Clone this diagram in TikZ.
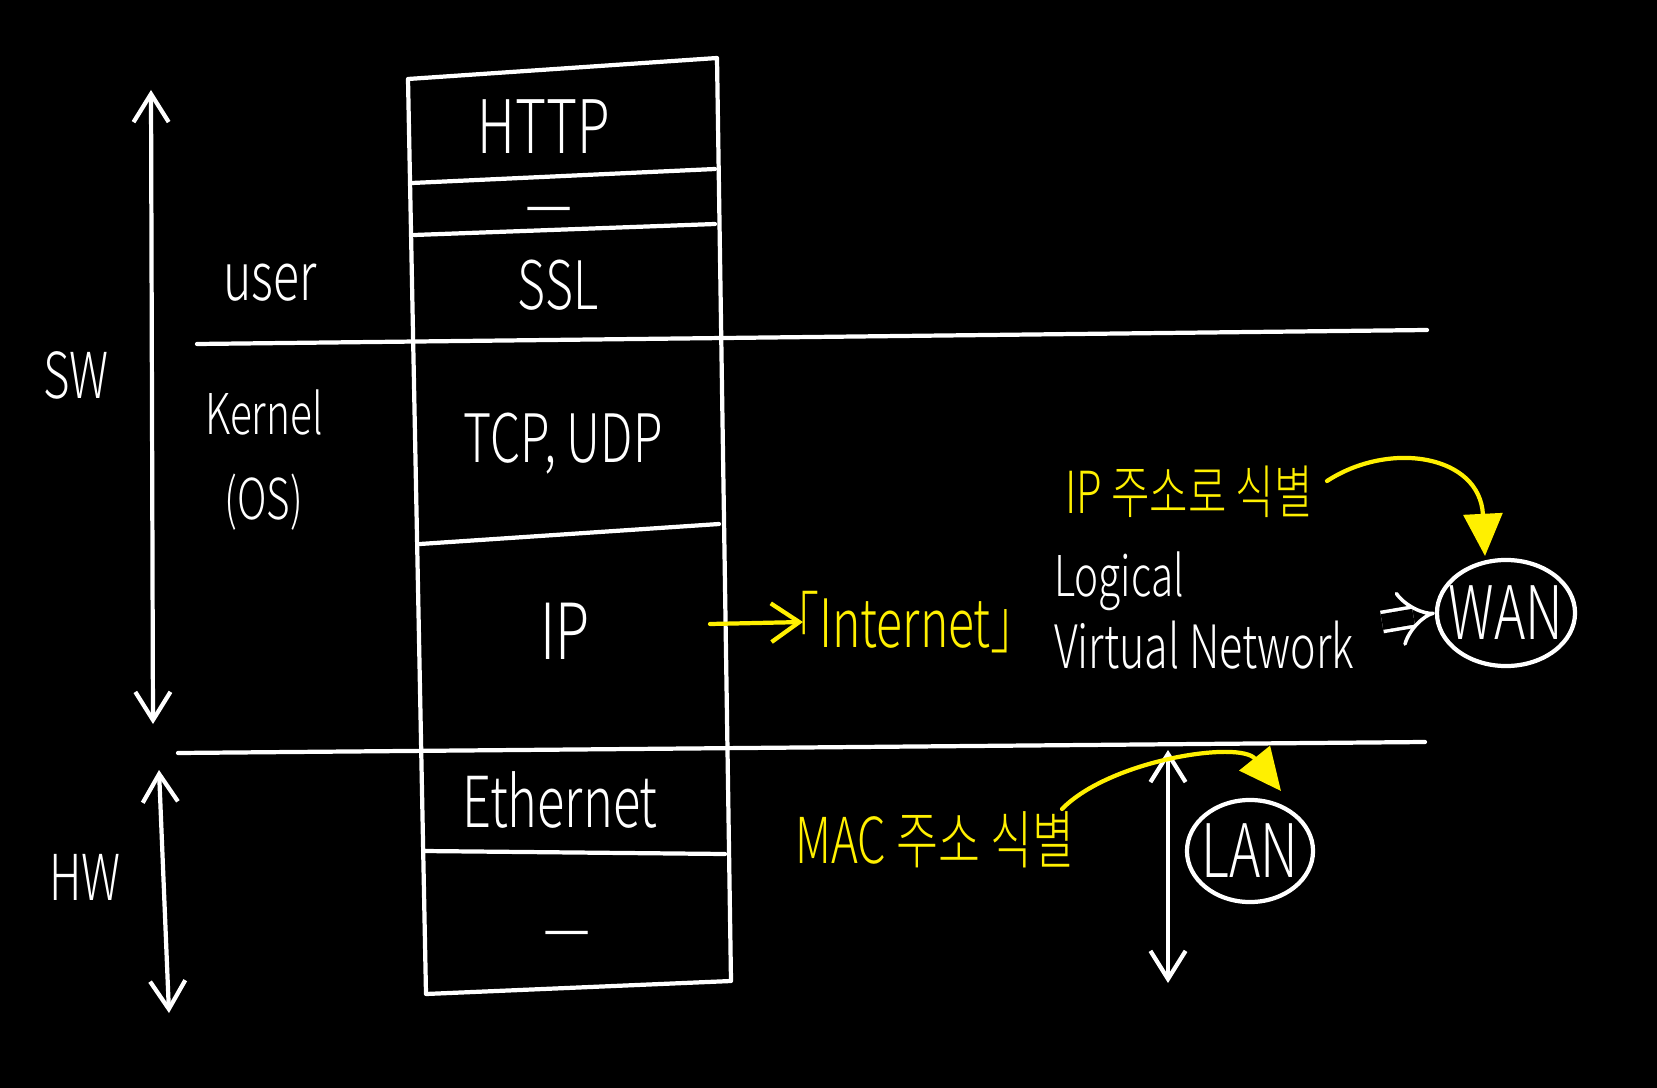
\documentclass[tikz,border=0pt]{standalone}
\usepackage{fontspec}
\setmainfont{Noto Sans CJK KR}[UprightFont={* Light},FakeStretch=0.72]
\usetikzlibrary{arrows.meta,shapes.geometric}
\begin{document}
\begin{tikzpicture}[x=0.01cm,y=-0.01cm,
  line width=1.2pt, line cap=round, line join=round,
  wl/.style={draw=white},
  yl/.style={draw=hlyellow},
  lbl/.style={text=white,inner sep=0pt},
  ylbl/.style={text=hlyellow,inner sep=0pt},
  fz/.style={font=\fontsize{#1}{#1}\selectfont},
  barb/.style={-{Straight Barb[length=8pt,width=11pt]}},
  dbarb/.style={{Straight Barb[length=8pt,width=10pt]}-{Straight Barb[length=8pt,width=10pt]}},
  tri/.style={-{Triangle[length=12pt,width=11pt]}},
  circ/.style={ellipse,draw=white,text=white,inner xsep=-3pt,inner ysep=0pt}
]
\definecolor{hlyellow}{RGB}{255,240,0}
\fill[black] (0,0) rectangle (1657,1088);
\useasboundingbox (0,0) rectangle (1657,1088);

% protocol stack box
\draw[wl] (408,79) -- (717,58) -- (731,981) -- (426,994) -- cycle;
\draw[wl] (412,183) -- (715,169);
\draw[wl] (414,235) -- (715,224);
\draw[wl] (420,544) -- (719,524);
\draw[wl] (423,851) -- (725,854);
% long horizontal lines
\draw[wl] (197,344) -- (1427,330);
\draw[wl] (178,753) -- (1425,742);

% stack labels
\node[lbl,fz=21] (http) at (544,127) {HTTP};
\node[lbl,fz=21] (dash1) at (549,218) {—};
\node[lbl,fz=19] (ssl) at (558,285) {SSL};
\node[lbl,fz=19] (tcp) at (563,444) {TCP, UDP};
\node[lbl,fz=22] (ip) at (565,631) {IP};
\node[lbl,fz=20] (eth) at (560,800) {Ethernet};
\node[lbl,fz=21] (dash2) at (567,942) {—};

% left labels
\node[lbl,fz=19] (user) at (270,283) {user};
\node[lbl,font=\fontsize{16}{24}\selectfont,align=center] (kernel) at (264,460) {Kernel\\(OS)};
\node[lbl,fz=18] (sw) at (76,375) {SW};
\node[lbl,fz=18] (hw) at (85,877) {HW};

% left arrows
\coordinate (swt) at (151,90);
\coordinate (swb) at (153,724);
\coordinate (hwt) at (159,770);
\coordinate (hwb) at (169,1013);
\draw[wl,dbarb] (swt) -- (swb);
\draw[wl,dbarb] (hwt) -- (hwb);

% IP -> Internet
\node[ylbl,fz=19] (inet) at (905,622) {「Internet」};
\coordinate (ipa) at (710,624);
\coordinate (ipb) at (803,622);
\draw[yl,barb] (ipa) -- (ipb);

% Logical Virtual Network
\node[lbl,fz=16,anchor=west] (logical) at (1052,581) {Logical};
\node[lbl,fz=17,anchor=west] (vnet) at (1052,645) {Virtual Network};

% WAN
\node[circ,fz=21,minimum width=1.38cm,minimum height=1.06cm] (wan) at (1506,613) {WAN};
\coordinate (dstart) at (1382,622);
\draw[white,line cap=butt,double=black,double distance=4.5pt,line width=1pt,-{Implies[length=10pt]}] (dstart) -- (wan.west);

% IP address label
\node[ylbl,fz=16.5] (ipaddr) at (1189,492) {IP 주소로 식별};
\coordinate (ca) at (1327,481);
\coordinate (cb) at (1485,556);
\draw[yl,tri] (ca) .. controls (1390,440) and (1480,455) .. (cb);

% LAN
\node[circ,fz=21,minimum width=1.26cm,minimum height=1.02cm] (lan) at (1250,851) {LAN};
\coordinate (lt) at (1168,750);
\coordinate (lb) at (1168,983);
\draw[wl,dbarb] (lt) -- (lb);

% MAC label
\node[ylbl,fz=18] (mac) at (935,840) {MAC 주소 식별};
\coordinate (mb) at (1062,809);
\coordinate (me) at (1281,791);
\draw[yl,tri] (mb) .. controls (1110,760) and (1240,740) .. (me);
\end{tikzpicture}
\end{document}
